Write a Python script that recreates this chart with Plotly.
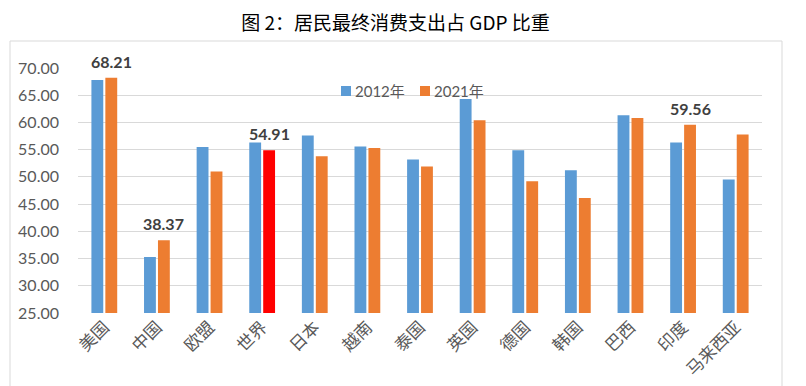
import plotly.graph_objects as go

categories = ["美国", "中国", "欧盟", "世界", "日本", "越南", "泰国", "英国", "德国", "韩国", "巴西", "印度", "马来西亚"]
values_2012 = [67.8, 35.3, 55.5, 56.3, 57.6, 55.6, 53.2, 64.3, 54.9, 51.2, 61.3, 56.3, 49.5]
values_2021 = [68.21, 38.37, 51.0, 54.91, 53.8, 55.3, 51.9, 60.4, 49.2, 46.1, 60.8, 59.56, 57.8]
series_names = ["2012年", "2021年"]
labeled = ["美国", "中国", "世界", "印度"]
y_ticks = [25, 30, 35, 40, 45, 50, 55, 60, 65, 70]

BLUE = "#5B9BD5"
ORANGE = "#ED7D31"
RED = "#FF0000"
colors_2021 = [RED if c == "世界" else ORANGE for c in categories]

NUM_FONT = "Lato, 'Open Sans', sans-serif"
CJK_FONT = "'Noto Sans CJK SC', sans-serif"

# the page adds an 8px body margin, so the figure is laid out 8px smaller
W, H = 798, 378
L, R, T, B = 70, 44, 60, 73
PW, PH = W - L - R, H - T - B


def px(fx):
    return (fx - L) / PW


def py(fy):
    return (H - B - fy) / PH


BARGAP = 0.47
fig = go.Figure()
fig.add_trace(go.Bar(name=series_names[0], x=categories, y=values_2012, showlegend=False,
                     marker=dict(color=BLUE, line=dict(width=0))))
fig.add_trace(go.Bar(name=series_names[1], x=categories, y=values_2021, showlegend=False,
                     marker=dict(color=colors_2021, line=dict(width=0))))

offset = (1 - BARGAP) / 4
for i, c in enumerate(categories):
    if c in labeled:
        v = values_2021[i]
        fig.add_annotation(x=i + offset, y=v, xref="x", yref="y", text=f"<b>{v:.2f}</b>",
                           showarrow=False, yanchor="bottom", yshift=5,
                           font=dict(family=NUM_FONT, size=16, color="#404040"))

# legend drawn as squares + text (tight Excel-style spacing)
for name, col, mx in zip(series_names, [BLUE, ORANGE], [333, 412]):
    fig.add_shape(type="rect", xref="paper", yref="paper",
                  x0=px(mx), x1=px(mx + 10), y0=py(88), y1=py(78),
                  line=dict(width=0), fillcolor=col)
    fig.add_annotation(x=px(mx + 12), y=py(83), xref="paper", yref="paper", text=name,
                       showarrow=False, xanchor="left", yanchor="middle",
                       font=dict(family=NUM_FONT + ", " + CJK_FONT, size=15, color="#595959"))

# outer chart border
fig.add_shape(type="rect", xref="paper", yref="paper",
              x0=px(2), x1=px(774), y0=-0.5, y1=py(33),
              line=dict(color="#D9D9D9", width=1), fillcolor="rgba(0,0,0,0)", layer="below")

fig.update_layout(
    width=W, height=H,
    margin=dict(l=L, r=R, t=T, b=B),
    paper_bgcolor="white", plot_bgcolor="white",
    barmode="group", bargap=BARGAP, bargroupgap=0.15,
    showlegend=False,
    title=dict(text="图 2：居民最终消费支出占 GDP 比重", x=387.5 / W, xanchor="center",
               y=1 - 15 / H, yanchor="middle", yref="container",
               font=dict(family=CJK_FONT, size=19, color="#000000")),
    xaxis=dict(type="category", tickangle=-45, showgrid=False, showline=False, ticks="",
               automargin=False,
               tickfont=dict(family=CJK_FONT, size=17, color="#595959")),
    yaxis=dict(range=[25, 70], tickvals=y_ticks, tickformat=".2f", showgrid=True,
               gridcolor="#D9D9D9", gridwidth=1, zeroline=False, showline=False, ticks="",
               automargin=False, ticklabelstandoff=18,
               tickfont=dict(family=NUM_FONT, size=16, color="#595959")),
)

fig.write_html("out.html")
